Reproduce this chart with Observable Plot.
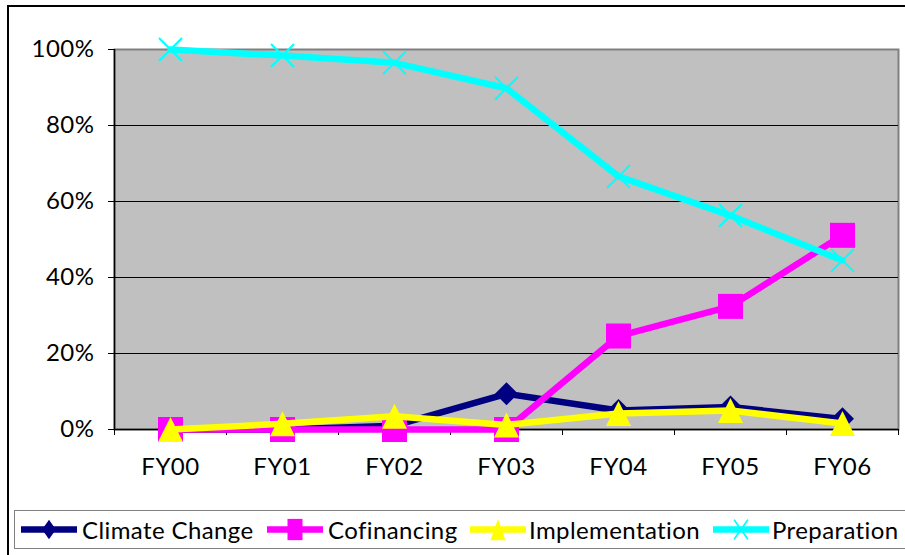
<!DOCTYPE html>
<html><head><meta charset="utf-8">
<script src="https://cdn.jsdelivr.net/npm/d3@7"></script>
<script src="https://cdn.jsdelivr.net/npm/@observablehq/plot@0.6"></script>
<style>
body{margin:0;background:#fff;font-family:Lato,sans-serif;}
#wrap{position:relative;width:905px;height:555px;overflow:hidden;background:#fff;}
#outer{position:absolute;left:7px;top:5px;width:1000px;height:1000px;border:2px solid #000;box-sizing:border-box;}
#chart{position:absolute;left:0;top:0;}
#legend{position:absolute;left:14px;top:510px;width:1000px;height:39px;border:1px solid #808080;box-sizing:border-box;}
.li{position:absolute;top:510px;height:39px;}
.lt{position:absolute;top:510px;height:39px;line-height:39px;font-size:24px;letter-spacing:0.4px;color:#000;white-space:nowrap;}
#chart text{letter-spacing:0.5px;}
</style></head><body>
<div id="wrap"><div id="outer"></div><div id="chart"></div><div id="legend"></div></div>
<script>
const categories = ["FY00","FY01","FY02","FY03","FY04","FY05","FY06"];
const climateChange = [0, 0, 1, 9.4, 5, 5.9, 2.8];
const cofinancing = [0, 0, 0, 0, 24.6, 32.4, 51.1];
const implementation = [0, 1.5, 3.5, 1.2, 4.2, 5, 1.6];
const preparation = [100, 98.4, 96.5, 89.8, 66.6, 56.3, 44.5];
const seriesNames = ["Climate Change","Cofinancing","Implementation","Preparation"];
const seriesValues = [climateChange, cofinancing, implementation, preparation];
const seriesColors = ["#000080","#ff00ff","#ffff00","#00ffff"];
const yTicks = [0,20,40,60,80,100];

const sym = (fn) => ({draw(ctx, size){ fn(ctx, Math.sqrt(size / Math.PI)); }});
const diamond = sym((c, r) => {c.moveTo(0,-r);c.lineTo(r,0);c.lineTo(0,r);c.lineTo(-r,0);c.closePath();});
const square = sym((c, r) => {c.moveTo(-r,-r);c.lineTo(r,-r);c.lineTo(r,r);c.lineTo(-r,r);c.closePath();});
const triangle = sym((c, r) => {c.moveTo(0,-r);c.lineTo(r,r);c.lineTo(-r,r);c.closePath();});
const times = sym((c, r) => {c.moveTo(-r,-r);c.lineTo(r,r);c.moveTo(r,-r);c.lineTo(-r,r);});
const symbols = [diamond, square, triangle, times];
const symR = [11.5, 12.5, 12.5, 11.5];

const rows = seriesNames.map((s, k) => categories.map((c, i) => ({series: s, i, cat: c, value: seriesValues[k][i]})));
const boundaries = d3.range(-0.5, categories.length, 1);

const seriesMarks = rows.flatMap((data, k) => [
  Plot.line(data, {x: "i", y: "value", stroke: seriesColors[k], strokeWidth: 6.5, strokeLinejoin: "round"}),
  k === 3
    ? Plot.dot(data, {x: "i", y: "value", symbol: symbols[k], r: symR[k], fill: "none", stroke: seriesColors[k], strokeWidth: 2})
    : Plot.dot(data, {x: "i", y: "value", symbol: symbols[k], r: symR[k], fill: seriesColors[k], stroke: "none"})
]);

const chart = Plot.plot({
  width: 905, height: 505,
  marginLeft: 114, marginRight: 7, marginTop: 49, marginBottom: 76,
  style: {fontFamily: "Lato, sans-serif", fontSize: "24px", color: "#000", background: "transparent", overflow: "visible"},
  x: {type: "linear", domain: [-0.5, categories.length - 0.5], axis: null},
  y: {domain: [0, 100], axis: null},
  marks: [
    Plot.frame({fill: "#c0c0c0", stroke: "#808080", strokeWidth: 2}),
    Plot.ruleY(yTicks.filter(v => v > 0 && v < 100), {stroke: "#000", strokeWidth: 1}),
    Plot.axisY(yTicks, {tickFormat: d => d + "%", tickSize: 6, tickPadding: 14, stroke: "#000", strokeOpacity: 1, fontSize: 24, label: null}),
    Plot.axisX(boundaries, {tickFormat: () => "", tickSize: 6, stroke: "#000", strokeOpacity: 1, label: null}),
    Plot.axisX(d3.range(categories.length), {tickFormat: i => categories[i], tickSize: 0, tickPadding: 28, fontSize: 24, label: null}),
    Plot.ruleX([-0.5], {stroke: "#000", strokeWidth: 1.5}),
    Plot.ruleY([0], {stroke: "#000", strokeWidth: 1.5}),
    ...seriesMarks
  ]
});
document.getElementById("chart").appendChild(chart);

// legend
const sampleX = [20, 266, 469, 712];
const textX = [82, 328, 529, 772];
const wrap = document.getElementById("wrap");
seriesNames.forEach((name, k) => {
  const svg = d3.create("svg").attr("class", "li").attr("width", 60).attr("height", 39)
    .style("left", sampleX[k] + "px");
  svg.append("line").attr("x1", 1).attr("x2", 57).attr("y1", 19.5).attr("y2", 19.5)
    .attr("stroke", seriesColors[k]).attr("stroke-width", 6.5);
  const g = svg.append("g").attr("transform", "translate(29,19.5) scale(0.6,0.85)");
  const p = g.append("path").attr("d", d3.symbol(symbols[k], Math.PI * symR[k] * symR[k])());
  if (k === 3) p.attr("fill", "none").attr("stroke", seriesColors[k]).attr("stroke-width", 2.5);
  else p.attr("fill", seriesColors[k]);
  wrap.appendChild(svg.node());
  const t = document.createElement("div");
  t.className = "lt"; t.style.left = textX[k] + "px"; t.textContent = name;
  wrap.appendChild(t);
});
</script>
</body></html>
